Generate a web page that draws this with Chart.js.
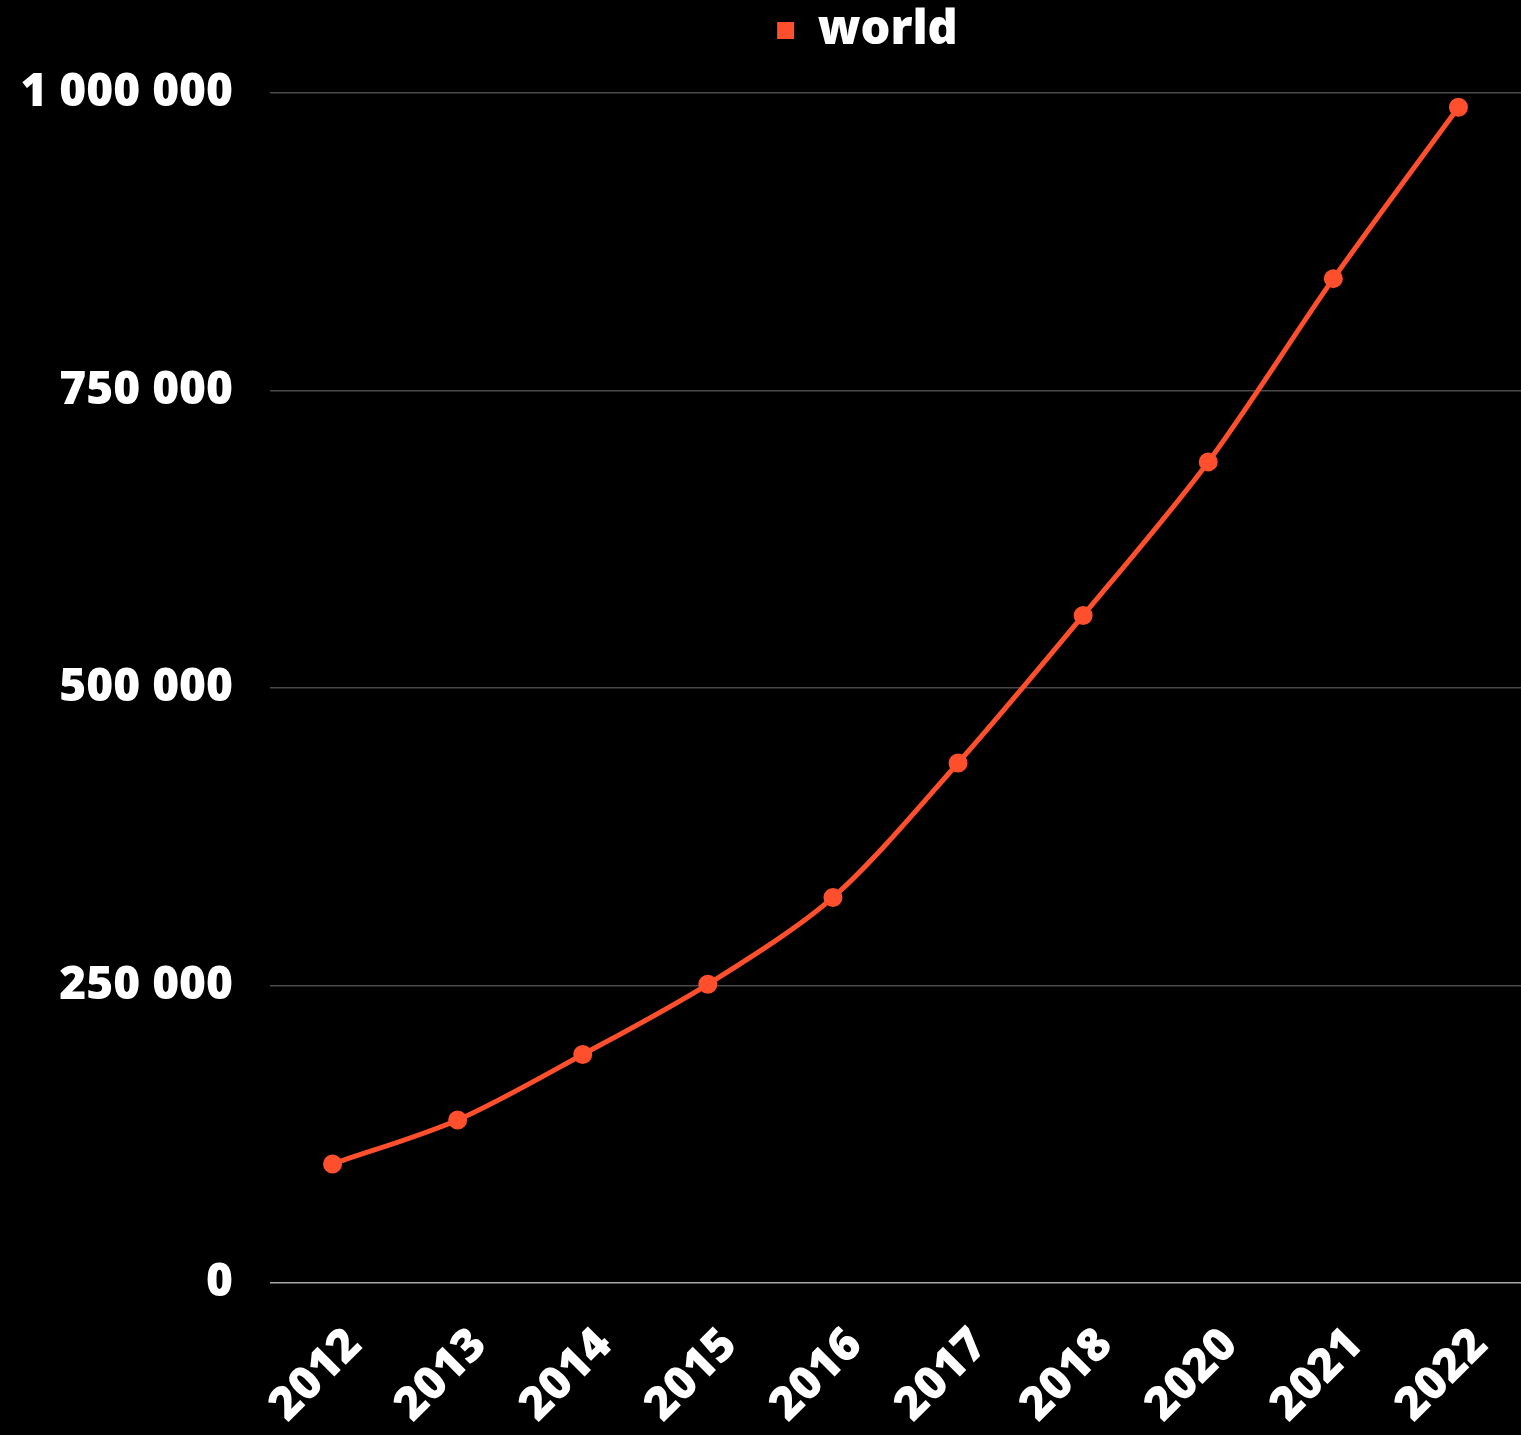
<!DOCTYPE html>
<html>
<head>
<meta charset="utf-8">
<script src="https://cdn.jsdelivr.net/npm/chart.js@4"></script>
<style>
html,body{margin:0;padding:0;background:#000;overflow:hidden;}
#wrap{width:1521px;height:1435px;position:relative;}
canvas{display:block;}
</style>
</head>
<body>
<div id="wrap"><canvas id="c"></canvas></div>
<script>
const categories = ["2012","2013","2014","2015","2016","2017","2018","2020","2021","2022"];
const worldValues = [100000,137000,192000,251000,324000,437000,561000,690000,844000,988000];
const seriesName = "world";
const yTicks = [0,250000,500000,750000,1000000];

const FONT = "'Open Sans', sans-serif";
const RED = "#ff4f2c";

function fmt(v){
  return String(v).replace(/\B(?=(\d{3})+(?!\d))/g, " ");
}

const layoutTweaks = {
  id: 'layoutTweaks',
  beforeLayout(chart){
    const lg = chart.legend;
    if (lg && !lg._patched){
      const orig = lg.fit;
      lg.fit = function(){ orig.call(this); this.height = 93; };
      lg._patched = true;
    }
  },
  afterLayout(chart){
    const lg = chart.legend;
    if (lg){ lg.left += 97; lg.right += 97; }
  }
};

new Chart(document.getElementById('c'), {
  type: 'line',
  data: {
    labels: categories,
    datasets: [{
      label: seriesName,
      data: worldValues,
      borderColor: RED,
      backgroundColor: RED,
      borderWidth: 5,
      pointRadius: 7,
      pointHoverRadius: 7,
      pointBackgroundColor: RED,
      pointBorderColor: RED,
      tension: 0.3
    }]
  },
  plugins: [layoutTweaks],
  options: {
    responsive: true,
    maintainAspectRatio: false,
    animation: false,
    layout: {autoPadding: false, padding: {top: 0, right: 0, bottom: 0, left: 20}},
    plugins: {
      tooltip: {enabled: false},
      legend: {
        display: true,
        position: 'top',
        labels: {
          color: '#fff',
          boxWidth: 17,
          boxHeight: 17,
          padding: 7,
          font: {family: FONT, size: 47, weight: 800},
          generateLabels: function(chart){
            return [{text: seriesName, fillStyle: RED, strokeStyle: RED, lineWidth: 0, fontColor: '#fff', datasetIndex: 0}];
          }
        }
      }
    },
    scales: {
      x: {
        offset: true,
        grid: {display: false, drawTicks: false},
        border: {display: false},
        afterFit: function(s){ s.height = 152; s.paddingLeft = 0; s.paddingRight = 0; },
        ticks: {
          color: '#fff',
          maxRotation: 45,
          minRotation: 45,
          padding: 35,
          labelOffset: 22,
          font: {family: FONT, size: 46, weight: 800}
        }
      },
      y: {
        min: 0,
        max: 1000000,
        afterBuildTicks: function(axis){ axis.ticks = yTicks.map(v => ({value: v})); },
        afterFit: function(s){ s.width = 250; s.paddingTop = 0; s.paddingBottom = 0; },
        grid: {
          drawTicks: false,
          color: function(ctx){ return ctx.tick && ctx.tick.value === 0 ? '#a6a6a6' : '#4a4a4a'; },
          lineWidth: 1.5
        },
        border: {display: false},
        ticks: {
          color: '#fff',
          padding: 37,
          font: {family: FONT, size: 46, weight: 800},
          callback: function(v){ return fmt(v); }
        }
      }
    }
  }
});
</script>
</body>
</html>
